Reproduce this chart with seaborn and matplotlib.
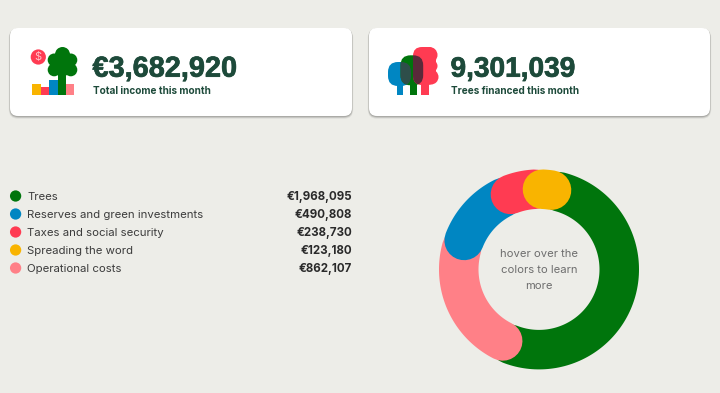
import numpy as np
import matplotlib
matplotlib.use('Agg')
import matplotlib.pyplot as plt
import matplotlib.patheffects as pe
from matplotlib.patches import FancyBboxPatch, Circle, Rectangle
import seaborn as sns

# donut / legend data
categories = ['Trees', 'Reserves and green investments', 'Taxes and social security',
              'Spreading the word', 'Operational costs']
amounts = [1968095, 490808, 238730, 123180, 862107]
amount_labels = ['€1,968,095', '€490,808', '€238,730', '€123,180', '€862,107']
colors = ['#00750C', '#0086C2', '#FF3B52', '#F9B400', '#FF8087']
draw_order = ['Trees', 'Operational costs', 'Reserves and green investments',
              'Taxes and social security', 'Spreading the word']

# cards
card_values = ['€3,682,920', '9,301,039']
card_labels = ['Total income this month', 'Trees financed this month']

bg = '#EDEDE8'
dark = '#1D4A3A'

sns.set_theme(style='white')
plt.rcParams['font.family'] = ['Inter', 'DejaVu Sans']

fig = plt.figure(figsize=(7.2, 3.93), dpi=100, facecolor=bg)
ax = fig.add_axes([0, 0, 1, 1])
ax.set_xlim(0, 720)
ax.set_ylim(393, 0)
ax.axis('off')

palette = sns.color_palette(colors)
color_of = dict(zip(categories, palette))


def round_box(x, y, w, h, r, **kw):
    return FancyBboxPatch((x + r, y + r), w - 2 * r, h - 2 * r,
                          boxstyle=f'round,pad={r},rounding_size={r}', ec='none', **kw)


def card(x0, x1):
    # soft shadow under the card
    for grow, off, a in [(1.2, 1.6, 0.06), (0.7, 1.2, 0.10), (0.3, 0.8, 0.14)]:
        ax.add_patch(round_box(x0 - grow, 28 - grow + off, x1 - x0 + 2 * grow, 88 + 2 * grow, 8 + grow,
                               fc='black', alpha=a, zorder=1))
    ax.add_patch(round_box(x0, 28, x1 - x0, 88, 8, fc='white', zorder=2))


card(10, 352)
card(369, 710)

# Inter here has no tight tracking, Liberation bold is closer to the big numbers
big = dict(fontweight='bold', color=dark, va='baseline', ha='left', zorder=4, family='Liberation Sans',
           path_effects=[pe.withStroke(linewidth=0.5, foreground=dark)])
ax.text(92.5, 76.7, card_values[0], fontsize=20.8, **big)
ax.text(450.5, 76.7, card_values[1], fontsize=20.2, **big)
ax.text(93, 94.3, card_labels[0], fontsize=7.2, fontweight='bold', color=dark, va='baseline', ha='left', zorder=4)
ax.text(451, 94.3, card_labels[1], fontsize=7.2, fontweight='bold', color=dark, va='baseline', ha='left', zorder=4)

# left icon
for x, top, w, c in [(32.3, 83.7, 8.4, colors[3]), (40.7, 86.7, 8.3, colors[2]), (49, 80, 8.5, colors[1]),
                     (66.3, 84.3, 8, colors[4]), (58, 70, 8.3, colors[0])]:
    ax.add_patch(Rectangle((x, top), w, 95.3 - top, fc=c, ec='none', zorder=3))
for x, y, r in [(62.5, 54.5, 7.5), (54.2, 60, 6.5), (70.8, 60, 6.5), (54.2, 69.8, 6.5), (70.8, 69.8, 6.5),
                (62.5, 64.5, 11.5)]:
    ax.add_patch(Circle((x, y), r, fc=colors[0], ec='none', zorder=3))
ax.add_patch(Circle((38.3, 57), 7.6, fc=colors[2], ec='none', zorder=3))
ax.text(38.3, 57, '$', fontsize=8, color='#FFC0C6', ha='center', va='center', zorder=4)

# right icon
for x, w, c in [(397, 6.3, colors[1]), (409.7, 7.6, colors[0]), (421.3, 7.4, colors[2])]:
    ax.add_patch(Rectangle((x, 80), w, 15.3, fc=c, ec='none', zorder=3))
canopies = [(388, 62, 23, 24, 10, colors[1]), (400.5, 55.3, 22.7, 30, 10, colors[0]), (413, 47, 23, 38, 9, colors[2])]
for x, y, w, h, r, c in canopies:
    ax.add_patch(round_box(x, y, w, h, r, fc=c, zorder=3))
for x, y, r in [(429.5, 55, 8), (431.5, 66, 6), (431, 77, 7.5)]:
    ax.add_patch(Circle((x, y), r, fc=colors[2], ec='none', zorder=3))
for i, c in [(0, '#2E4E4A'), (1, '#5A2A3A')]:
    x, y, w, h, r, _ = canopies[i]
    o = round_box(x, y, w, h, r, fc=c, zorder=3.5)
    ax.add_patch(o)
    x, y, w, h, r, _ = canopies[i + 1]
    o.set_clip_path(round_box(x, y, w, h, r, transform=ax.transData))

# legend rows
row_y = [196, 214, 232, 250, 268]
sns.scatterplot(x=[15.6] * 5, y=row_y, hue=categories, palette=color_of, s=66, linewidth=0,
                legend=False, ax=ax, zorder=3)
for y, name, val in zip(row_y, categories, amount_labels):
    ax.text(27, y + 4.3, name, fontsize=8.2, color='#3C3C3C', va='baseline', ha='left')
    ax.text(352, y + 4.3, val, fontsize=8.3, fontweight='bold', color='#2A2A2A', va='baseline', ha='right')

# donut, arcs stroked with round caps, each one drawn over the one before
cx, cy, r_mid = 539, 269.4, 80.25
start = 14.5
end_trim = 5.5
total = sum(amounts)
by_name = dict(zip(categories, amounts))
a = start
for name in draw_order:
    sweep = by_name[name] / total * 360
    th = np.radians(np.linspace(a, a + sweep - end_trim, 120))
    ax.plot(cx + r_mid * np.sin(th), cy - r_mid * np.cos(th), color=color_of[name], lw=39.5 * 0.72,
            solid_capstyle='round', zorder=3)
    a += sweep

for y, t in zip([257.3, 273.3, 289.3], ['hover over the', 'colors to learn', 'more']):
    ax.text(cx, y, t, fontsize=8.1, color='#6E6E6E', ha='center', va='baseline', zorder=4)

fig.savefig('out.png', dpi=100, facecolor=bg)
